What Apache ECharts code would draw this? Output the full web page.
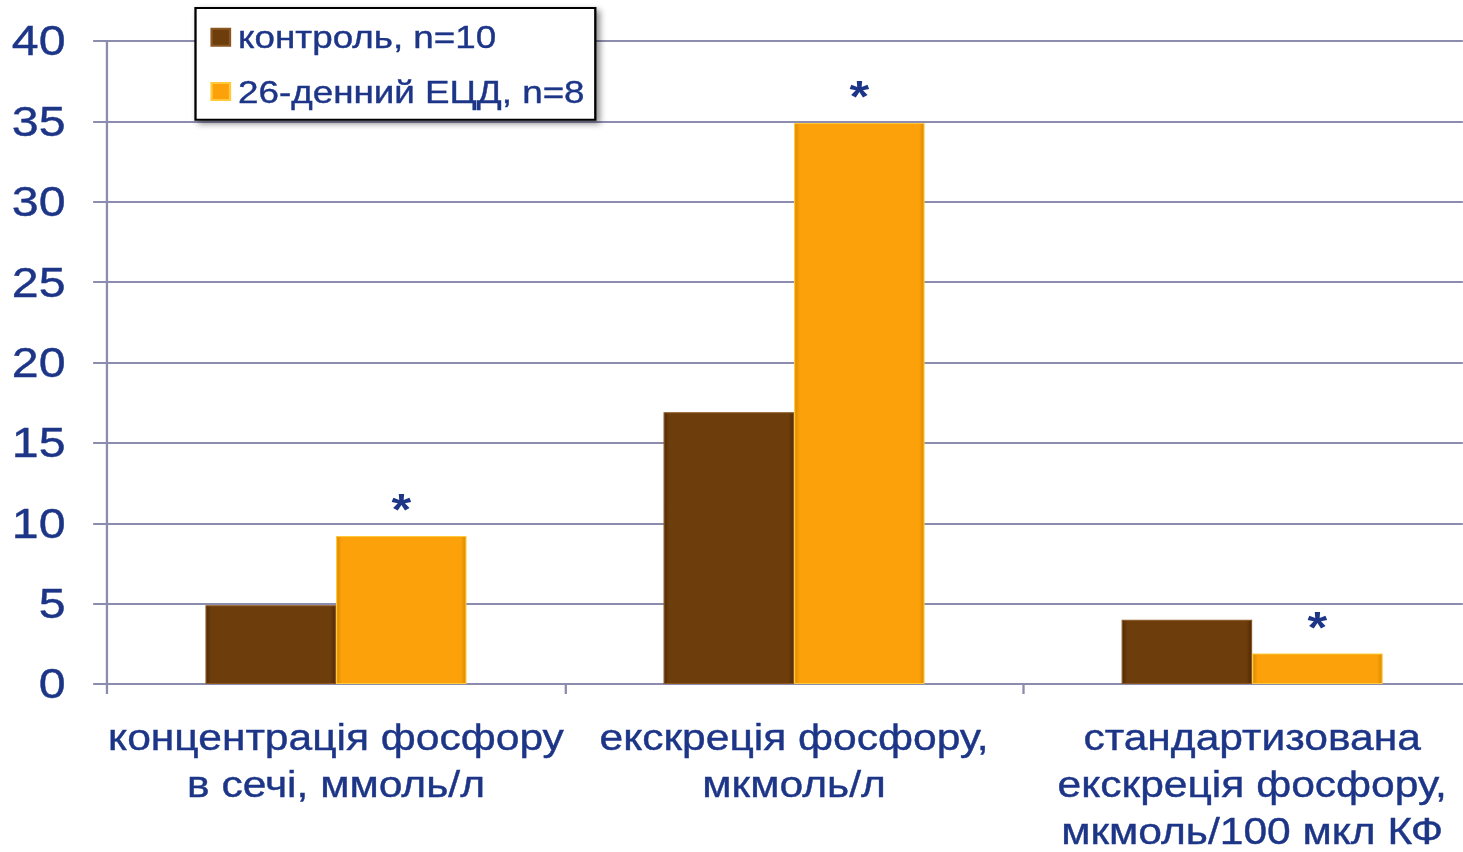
<!DOCTYPE html>
<html>
<head>
<meta charset="utf-8">
<script src="https://cdn.jsdelivr.net/npm/echarts@6/dist/echarts.min.js"></script>
<style>
  html, body { margin: 0; padding: 0; background: #ffffff; overflow: hidden; }
  /* the figure uses a horizontally widened type, so the drawing is stretched along x */
  #chart { width: 1272px; height: 852px; transform: scaleX(1.15); transform-origin: 0 0; }
</style>
</head>
<body>
<div id="chart"></div>
<script>
// Phosphorus in urine: control vs 26-day diet group
const categories = [
  'концентрація фосфору\nв сечі, ммоль/л',
  'екскреція фосфору,\nмкмоль/л',
  'стандартизована\nекскреція фосфору,\nмкмоль/100 мкл КФ'
];
const seriesNames = ['контроль, n=10', '26-денний ЕЦД, n=8'];
const controlValues = [4.9, 16.9, 4.0];
const dietValues = [9.2, 34.9, 1.9];
const significanceMarks = ['*', '*', '*'];
const yTicks = [0, 5, 10, 15, 20, 25, 30, 35, 40];

const textBlue = '#1c3587';
const gridColor = '#8c8cae';
const font = 'Liberation Sans, Arial, sans-serif';

// slightly heavier strokes for all labels
const heavy = { textBorderColor: textBlue, textBorderWidth: 0.4 };

function barFill(edge, mid) {
  return new echarts.graphic.LinearGradient(0, 0, 1, 0, [
    { offset: 0, color: edge },
    { offset: 0.04, color: mid },
    { offset: 0.96, color: mid },
    { offset: 1, color: edge }
  ]);
}

const chart = echarts.init(document.getElementById('chart'), null, { renderer: 'svg', width: 1272, height: 852 });

chart.setOption({
  animation: false,
  backgroundColor: '#ffffff',
  textStyle: { fontFamily: font },
  // the third category runs slightly past the right edge
  grid: { left: 93, width: 1195, top: 41, height: 643, containLabel: false, outerBoundsMode: 'none' },
  legend: {
    orient: 'vertical',
    left: 170,
    top: 8,
    padding: [13, 9, 12, 13],
    itemGap: 22,
    itemWidth: 16,
    itemHeight: 17,
    icon: 'rect',
    backgroundColor: '#ffffff',
    borderColor: '#000000',
    borderWidth: 2,
    shadowColor: 'rgba(0,0,0,0.45)',
    shadowBlur: 6,
    shadowOffsetX: 3,
    shadowOffsetY: 3,
    textStyle: Object.assign({ color: textBlue, fontSize: 32, fontFamily: font, padding: [0, 0, 0, 2] }, heavy),
    data: seriesNames
  },
  xAxis: {
    type: 'category',
    data: categories,
    axisLine: { lineStyle: { color: gridColor, width: 2 } },
    axisTick: { show: true, length: 10, lineStyle: { color: gridColor, width: 2 } },
    axisLabel: Object.assign({
      color: textBlue,
      fontSize: 37,
      fontFamily: font,
      lineHeight: 47,
      margin: 30,
      interval: 0,
      align: 'center'
    }, heavy)
  },
  yAxis: {
    type: 'value',
    min: yTicks[0],
    max: yTicks[yTicks.length - 1],
    interval: 5,
    axisLine: { show: true, lineStyle: { color: gridColor, width: 2 } },
    axisTick: { show: true, length: 12, lineStyle: { color: gridColor, width: 2 } },
    axisLabel: Object.assign({ color: textBlue, fontSize: 42, fontFamily: font, margin: 36 }, heavy),
    splitLine: { lineStyle: { color: gridColor, width: 2 } }
  },
  series: [
    {
      name: seriesNames[0],
      type: 'bar',
      data: controlValues,
      barGap: '0%',
      barCategoryGap: '43%',
      itemStyle: {
        color: barFill('#4f2a06', '#6e3d0c'),
        borderColor: '#8a5622',
        borderWidth: 1
      }
    },
    {
      name: seriesNames[1],
      type: 'bar',
      data: dietValues,
      barGap: '0%',
      barCategoryGap: '43%',
      itemStyle: {
        color: barFill('#d98a00', '#fda10a'),
        borderColor: '#ffc93a',
        borderWidth: 1
      },
      label: {
        show: true,
        position: 'top',
        distance: 4,
        formatter: (p) => significanceMarks[p.dataIndex],
        color: textBlue,
        fontSize: 44,
        fontWeight: 'bold',
        fontFamily: font
      }
    }
  ]
});
</script>
</body>
</html>
